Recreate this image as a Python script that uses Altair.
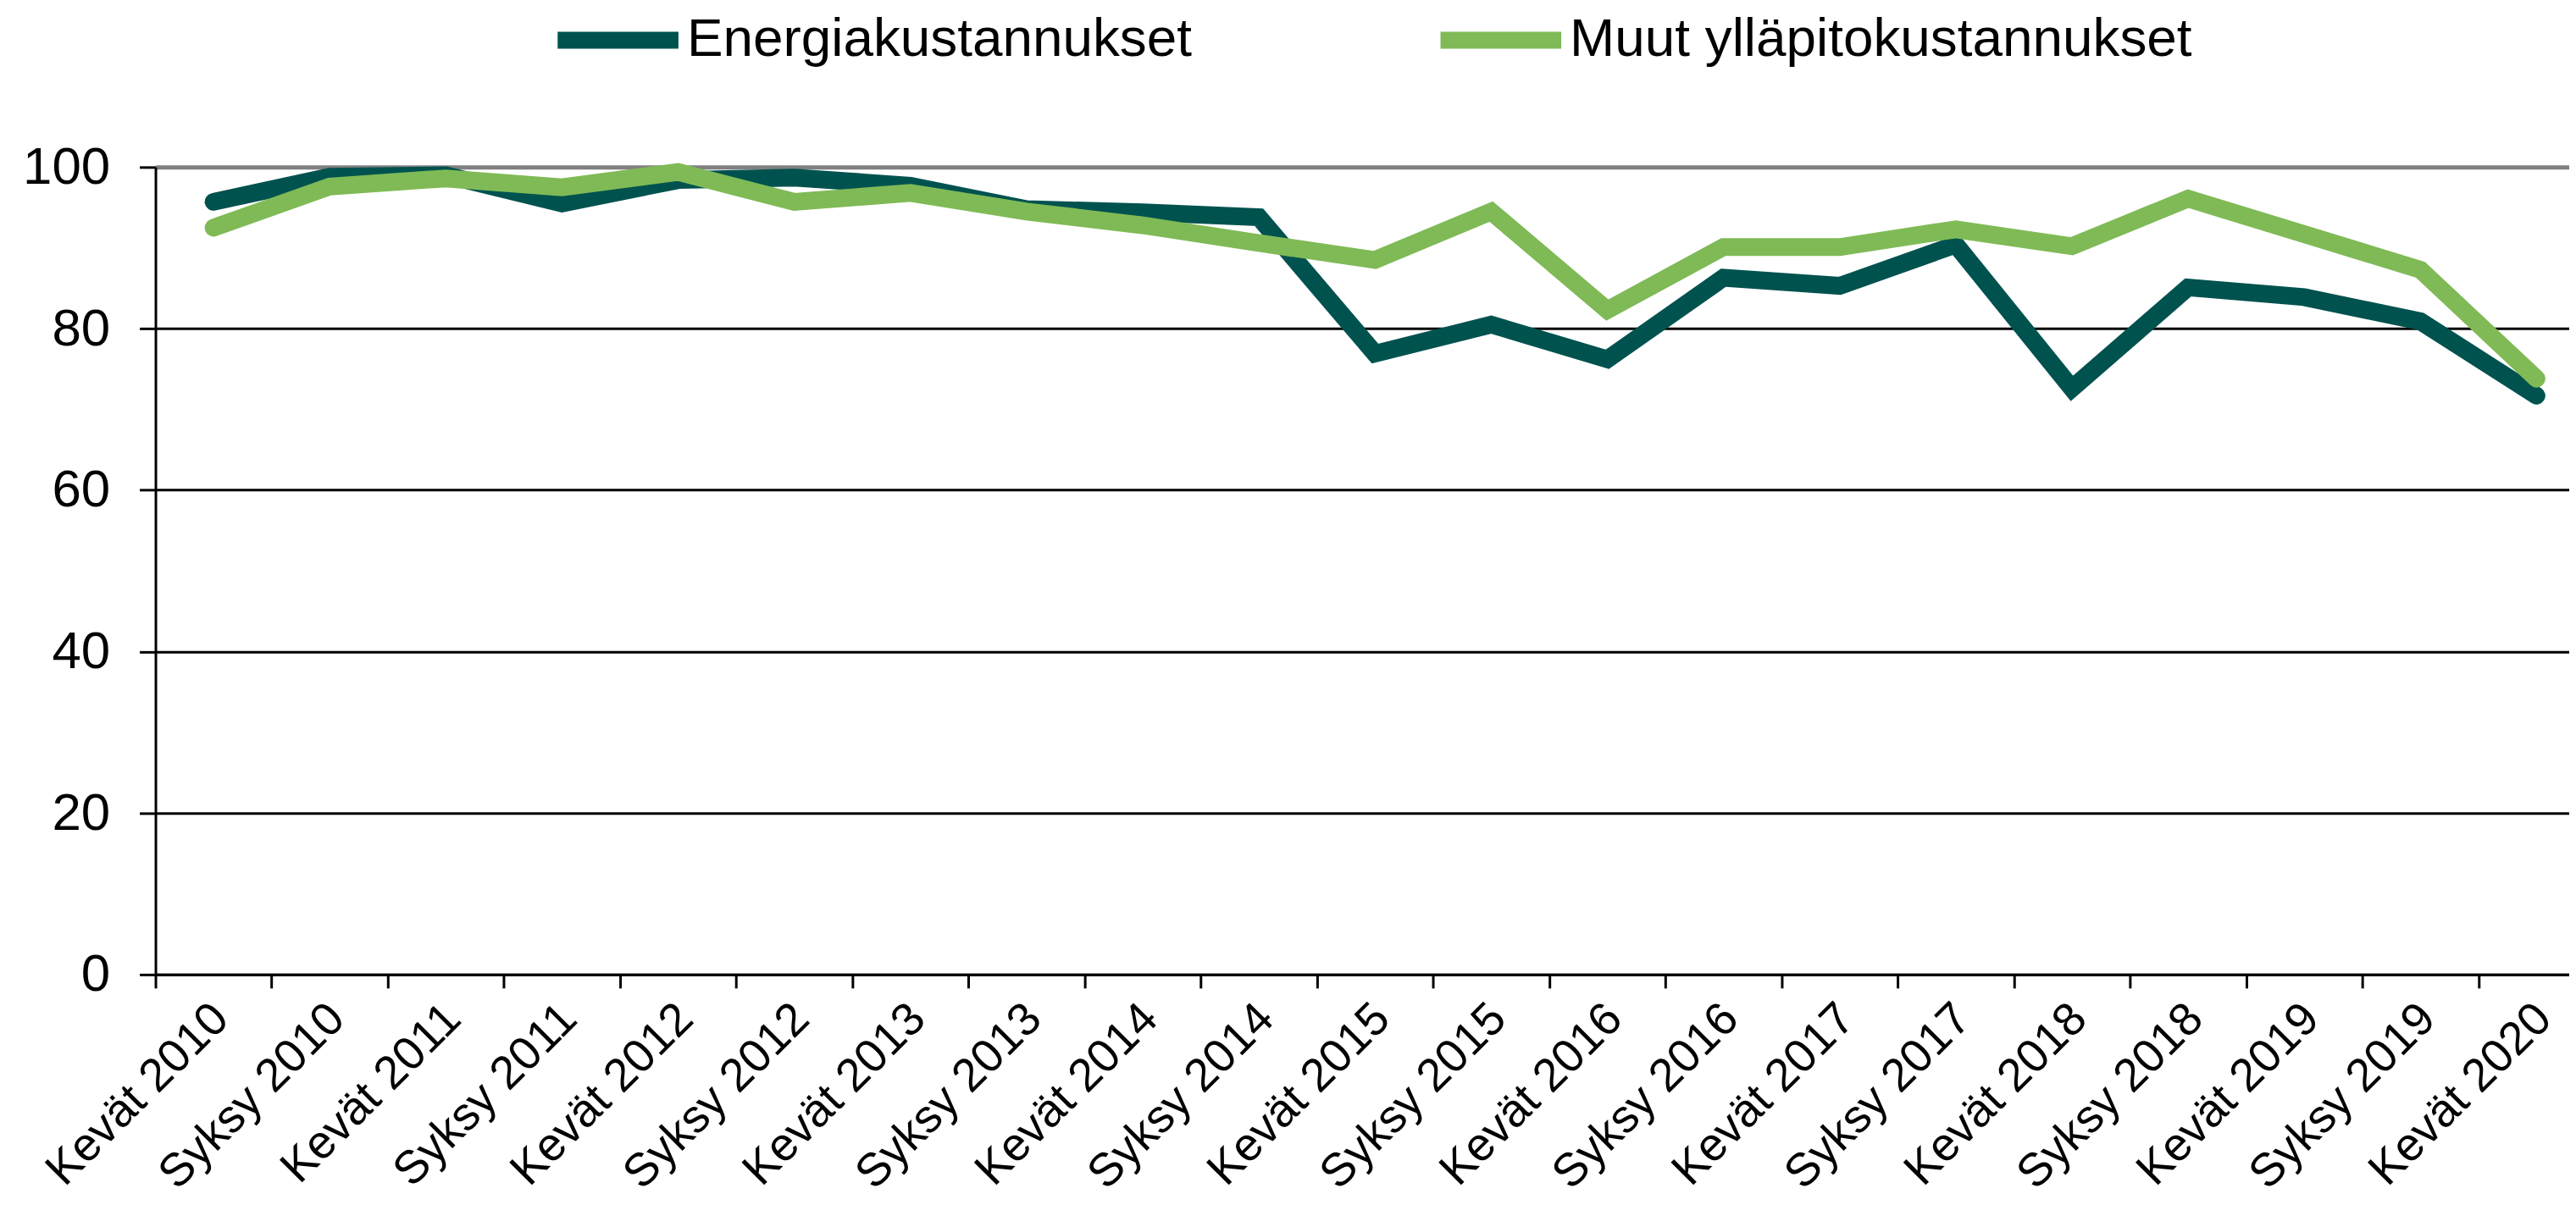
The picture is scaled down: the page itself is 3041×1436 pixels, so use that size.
import altair as alt
import pandas as pd

categories = [
    "Kevät 2010", "Syksy 2010", "Kevät 2011", "Syksy 2011", "Kevät 2012",
    "Syksy 2012", "Kevät 2013", "Syksy 2013", "Kevät 2014", "Syksy 2014",
    "Kevät 2015", "Syksy 2015", "Kevät 2016", "Syksy 2016", "Kevät 2017",
    "Syksy 2017", "Kevät 2018", "Syksy 2018", "Kevät 2019", "Syksy 2019",
    "Kevät 2020",
]
series_names = ["Energiakustannukset", "Muut ylläpitokustannukset"]
energia = [95.7, 98.8, 99.0, 95.5, 98.4, 98.7, 97.7, 94.8, 94.4, 93.8,
           76.9, 80.5, 76.2, 86.3, 85.3, 90.4, 72.6, 85.1, 83.9, 80.9, 71.7]
muut = [92.5, 97.6, 98.6, 97.5, 99.4, 95.7, 96.8, 94.5, 92.8, 90.6,
        88.5, 94.5, 82.3, 90.1, 90.1, 92.3, 90.2, 96.1, 91.7, 87.3, 73.8]
colors = ["#00524F", "#7FBA56"]
y_ticks = [0, 20, 40, 60, 80, 100]

rows = []
for s, vals in zip(series_names, [energia, muut]):
    for c, v in zip(categories, vals):
        rows.append({"kausi": c, "sarja": s, "arvo": v, "order": series_names.index(s)})
df = pd.DataFrame(rows)

FONT = "Liberation Sans"
PLOT_W = 2857
BAND_RANGE = 2887

chart = alt.Chart(df).mark_line(strokeWidth=21, strokeCap="round", strokeJoin="miter").encode(
    x=alt.X(
        "kausi:O",
        sort=categories,
        bandPosition=0.5,
        scale=alt.Scale(type="band", paddingInner=0, paddingOuter=0, range=[0, BAND_RANGE]),
        axis=alt.Axis(
            title=None,
            grid=False,
            tickBand="extent",
            labelAngle=-45,
            labelAlign="right",
            labelBaseline="middle",
            labelFont=FONT,
            labelFontSize=55,
            labelColor="black",
            labelPadding=27,
            labelOffset=8,
            labelOverlap=False,
            labelFlush=False,
            labelLimit=1000,
            domainColor="black",
            domainWidth=3,
            tickColor="black",
            tickWidth=3,
            tickSize=16,
        ),
    ),
    y=alt.Y(
        "arvo:Q",
        scale=alt.Scale(domain=[0, 100], nice=False, zero=True),
        axis=alt.Axis(
            title=None,
            values=y_ticks,
            labelFont=FONT,
            labelFontSize=62,
            labelColor="black",
            labelPadding=35,
            domainColor="black",
            domainWidth=3,
            tickColor="black",
            tickWidth=3,
            tickSize=19,
            grid=True,
            gridColor={"condition": {"test": "datum.value === 100", "value": "#808080"}, "value": "black"},
            gridWidth={"condition": {"test": "datum.value === 100", "value": 5}, "value": 3},
            gridOpacity=1,
        ),
    ),
    color=alt.Color(
        "sarja:N",
        scale=alt.Scale(domain=series_names, range=colors),
        legend=alt.Legend(
            title=None,
            orient="none",
            direction="horizontal",
            legendX=466,
            legendY=-232,
            labelFont=FONT,
            labelFontSize=64,
            labelColor="black",
            labelOffset=0,
            symbolType="stroke",
            symbolSize=20449,
            symbolStrokeWidth=20,
            columnPadding=254,
            padding=0,
            labelLimit=2000,
        ),
    ),
    order=alt.Order("order:Q"),
).properties(
    width=PLOT_W,
    height=956,
    autosize=alt.AutoSizeParams(type="none"),
    padding={"left": 176, "top": 188, "right": 0, "bottom": 270},
).configure_view(
    stroke=None
).configure(
    background="white"
)

chart.save("out.html", embed_options={"renderer": "svg", "actions": False})
